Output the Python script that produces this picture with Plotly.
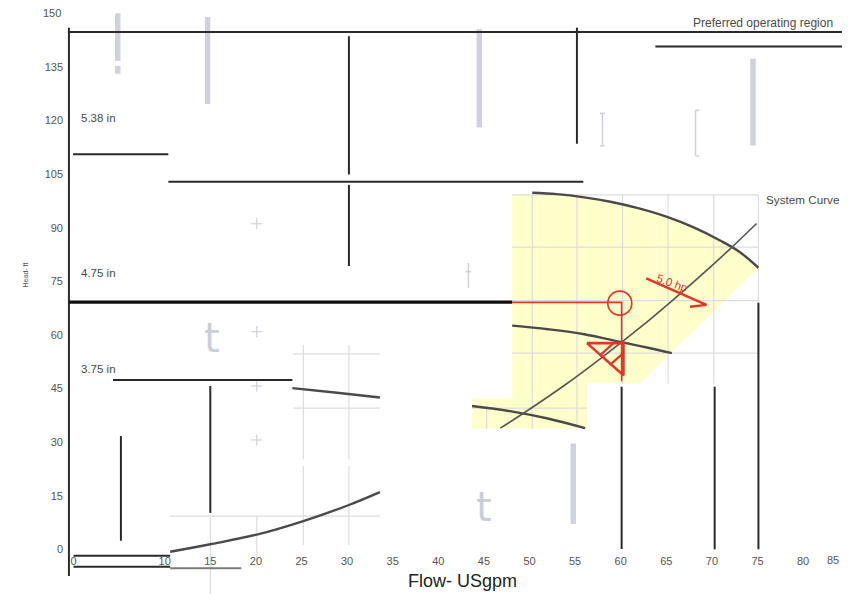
import plotly.graph_objects as go

# ---------------- data (flow in USgpm, head in ft) ----------------
x_tick_vals = [0, 10, 15, 20, 25, 30, 35, 40, 45, 50, 55, 60, 65, 70, 75, 80]
x_edge_tick = 85
y_tick_vals = [0, 15, 30, 45, 60, 75, 90, 105, 120, 135]
y_edge_tick = 150

# impeller / pump curves
curve_top_q = [50.3, 53, 56, 59, 62, 65, 68, 71, 73, 75.1]
curve_top_h = [99.8, 99.4, 98.5, 97.2, 95.4, 93.1, 90.1, 86.3, 83.3, 78.8]
curve_mid_q = [48.1, 52, 56, 60.2, 63, 65.6]
curve_mid_h = [62.6, 61.6, 60.2, 57.9, 56.4, 54.9]
curve_low_q = [43.7, 48, 52, 56.1]
curve_low_h = [40.1, 38.6, 36.6, 33.9]
curve_left_q = [24.0, 28.9, 33.6]
curve_left_h = [45.1, 43.8, 42.5]
curve_rise_q = [10.6, 15.0, 20.1, 25.2, 30.2, 33.6]
curve_rise_h = [-0.7, 1.4, 4.1, 7.9, 12.4, 16.0]
system_q = [46.8, 50, 54, 58, 62, 66, 70, 72, 74.9]
system_h = [33.9, 39.2, 46.2, 53.8, 61.8, 70.4, 79.4, 84.1, 91.2]

# preferred operating region (yellow)
region_q = [48.1, 50.3, 53, 56, 59, 62, 65, 68, 71, 73, 75.1, 62.1, 56.3, 56.3, 43.7, 43.7, 48.1, 48.1]
region_h = [99.2, 99.8, 99.4, 98.5, 97.2, 95.4, 93.1, 90.1, 86.3, 83.3, 78.8, 46.5, 46.5, 33.8, 33.8, 42.3, 42.3, 99.2]

# black segments: horizontal (head, flow_from, flow_to), vertical (flow, head_from, head_to)
black_h = [(144.8, -0.5, 85.3), (140.7, 63.8, 85.3), (110.6, -0.05, 10.4),
           (102.9, 10.4, 55.9), (47.4, 4.33, 24.0), (-1.8, 0.0, 10.6), (-4.9, 0.0, 10.6)]
black_v = [(-0.5, 146.0, -7.5), (5.2, 31.7, 2.4), (15.0, 45.7, 10.2), (30.2, 143.6, 104.9),
           (30.2, 102.0, 79.3), (55.2, 146.0, 113.5), (60.1, 45.5, 0.1), (70.3, 45.5, 0.0),
           (75.1, 69.0, 0.0)]
thick_h = [(69.2, -0.5, 48.1)]
gray_h = [(-5.3, 10.6, 18.4)]
edge_v = [(84.9, 140.0, 0.0)]

# light gray bars
bar_v = [(4.85, 150.0, 136.7), (4.85, 135.3, 133.1), (14.7, 149.0, 124.6),
         (44.5, 145.6, 118.1), (74.5, 137.3, 113.0), (54.8, 29.6, 7.1)]
thin_v = [(58.0, 122.0, 112.9), (68.2, 122.9, 110.1), (43.3, 80.1, 73.1)]
thin_h = [(122.0, 57.75, 58.25), (112.9, 57.75, 58.25), (122.9, 68.2, 68.6),
          (110.1, 68.2, 68.6), (77.7, 43.0, 43.6)]
plus_q = [20.1, 20.1, 20.1, 20.1]
plus_h = [91.1, 60.9, 45.7, 30.6]

# light grid pieces
grid_h = [(54.7, 24.1, 33.6), (39.5, 24.1, 33.6), (9.3, 10.6, 33.6),
          (99.2, 48.1, 75.1), (84.6, 48.1, 75.1), (69.6, 48.1, 75.1), (54.9, 48.1, 75.1),
          (39.5, 43.7, 56.3)]
grid_v = [(25.2, 57.2, 25.2), (25.2, 23.3, 1.2), (30.2, 57.2, 25.2), (30.2, 23.3, 1.2),
          (15.0, 9.3, -12.5), (20.1, 9.3, -3.1),
          (50.3, 99.2, 33.8), (55.2, 99.2, 33.8), (60.2, 99.2, 46.3), (65.2, 99.2, 46.3),
          (70.2, 99.2, 46.3), (75.1, 99.2, 52.0), (45.3, 40.2, 33.8)]

# red duty point markup
red_path_q = [48.1, 60.1, 60.1]
red_path_h = [69.1, 69.1, 47.0]
duty_q = [59.9]
duty_h = [68.9]
tri_q = [56.3, 60.3, 60.3, 56.3]
tri_h = [57.7, 57.7, 48.7, 57.7]
hatch = [(57.7, 54.2, 59.2, 57.7), (58.8, 51.6, 60.3, 54.9)]
arrow_q = [62.8, 69.4, 67.6]
arrow_h = [75.8, 68.4, 67.9]

labels = [("Preferred operating region", 75.6, 147.3, "center", 12),
          ("System Curve", 75.7, 97.8, "left", 11.7),
          ("5.38 in", 0.65, 120.8, "left", 11.5),
          ("4.75 in", 0.65, 77.2, "left", 11.5),
          ("3.75 in", 0.65, 50.5, "left", 11.5)]
ghost_t = [(15.2, 59.2), (45.0, 11.8)]

# ---------------- helpers ----------------
def seg_xy(hsegs=(), vsegs=()):
    xs, ys = [], []
    for y, a, b in hsegs:
        xs += [a, b, None]; ys += [y, y, None]
    for x, a, b in vsegs:
        xs += [x, x, None]; ys += [a, b, None]
    return xs, ys

fig = go.Figure()

def add_lines(xs, ys, color, width, fill=None, fillcolor=None):
    fig.add_trace(go.Scatter(x=xs, y=ys, mode="lines", line=dict(color=color, width=width),
                             fill=fill, fillcolor=fillcolor, hoverinfo="skip"))

# yellow region
fig.add_trace(go.Scatter(x=region_q, y=region_h, mode="lines", fill="toself",
                         fillcolor="#ffffcc", line=dict(width=0), hoverinfo="skip"))
# grid
gx, gy = seg_xy(grid_h, grid_v)
add_lines(gx, gy, "#dcdcdc", 1.2)
# light bars
bx, by = seg_xy((), bar_v)
add_lines(bx, by, "#cfd2da", 5.5)
tx, ty = seg_xy(thin_h, thin_v)
add_lines(tx, ty, "#cfd2da", 1.6)
fig.add_trace(go.Scatter(x=plus_q, y=plus_h, mode="markers",
                         marker=dict(symbol="cross-thin", size=8, color="#c8cad2",
                                     line=dict(color="#c8cad2", width=1)),
                         hoverinfo="skip"))
# black frame pieces
kx, ky = seg_xy(black_h, black_v)
add_lines(kx, ky, "#2a2a2a", 2)
hx, hy = seg_xy(thick_h)
add_lines(hx, hy, "#111111", 3.2)
ex, ey = seg_xy(gray_h)
add_lines(ex, ey, "#7a7a7a", 2)
vx, vy = seg_xy((), edge_v)
add_lines(vx, vy, "#9a9a9a", 1)
# pump curves
for q, h in [(curve_top_q, curve_top_h), (curve_mid_q, curve_mid_h), (curve_low_q, curve_low_h),
             (curve_left_q, curve_left_h), (curve_rise_q, curve_rise_h)]:
    fig.add_trace(go.Scatter(x=q, y=h, mode="lines", line=dict(color="#4a4a4a", width=2.4, shape="spline"),
                             hoverinfo="skip"))
fig.add_trace(go.Scatter(x=system_q, y=system_h, mode="lines",
                         line=dict(color="#555555", width=1.6, shape="spline"), hoverinfo="skip"))
# red markup
red = "#e3342a"
add_lines(red_path_q, red_path_h, red, 1.6)
add_lines(tri_q, tri_h, red, 2.6)
hxs, hys = [], []
for a, b, c, d in hatch:
    hxs += [a, c, None]; hys += [b, d, None]
add_lines(hxs, hys, red, 2.2)
add_lines(arrow_q, arrow_h, red, 2.4)
fig.add_trace(go.Scatter(x=duty_q, y=duty_h, mode="markers",
                         marker=dict(symbol="circle-open", size=24, color=red,
                                     line=dict(color=red, width=1.6)),
                         hoverinfo="skip"))

# ---------------- text ----------------
tick_font = dict(family="Liberation Sans", size=11, color="#555555")
for txt, q, h, anc, sz in labels:
    fig.add_annotation(x=q, y=h, text=txt, showarrow=False, xanchor=anc,
                       font=dict(family="Liberation Sans", size=sz, color="#4a4a4a"))
for q, h in ghost_t:
    fig.add_annotation(x=q, y=h, text="t", showarrow=False,
                       font=dict(family="DejaVu Sans", size=40, color="#cbced8"))
fig.add_annotation(x=65.6, y=74.5, text="5.0 hp", showarrow=False, textangle=20,
                   font=dict(family="Liberation Sans", size=11.5, color=red))
fig.add_annotation(x=42.7, y=-8.9, text="Flow- USgpm", showarrow=False,
                   font=dict(family="Liberation Sans", size=18, color="#222222"))
fig.add_annotation(xref="paper", yref="paper", x=-0.059, y=0.544, text="Head- ft",
                   textangle=-90, showarrow=False,
                   font=dict(family="Liberation Sans", size=7, color="#555555"))
# edge tick labels (kept inside the visible page)
fig.add_annotation(xref="paper", x=-0.0038, y=y_edge_tick, text=str(y_edge_tick),
                   showarrow=False, xanchor="right", font=tick_font)
fig.add_annotation(x=84.1, y=-3.0, text=str(x_edge_tick), showarrow=False,
                   xanchor="right", font=tick_font)

fig.update_layout(
    width=842, height=586, margin=dict(l=58, r=0, t=0, b=0),
    paper_bgcolor="white", plot_bgcolor="white", showlegend=False,
    xaxis=dict(range=[-0.822, 85.14], tickvals=x_tick_vals, showgrid=False, zeroline=False,
               showline=False, ticks="", anchor="free", position=0.07, automargin=False,
               tickfont=tick_font),
    yaxis=dict(range=[-12.51, 151.5], tickvals=y_tick_vals, showgrid=False, zeroline=False,
               showline=False, ticks="", ticklabelstandoff=2, automargin=False,
               tickfont=tick_font),
)

fig.write_html("out.html")
